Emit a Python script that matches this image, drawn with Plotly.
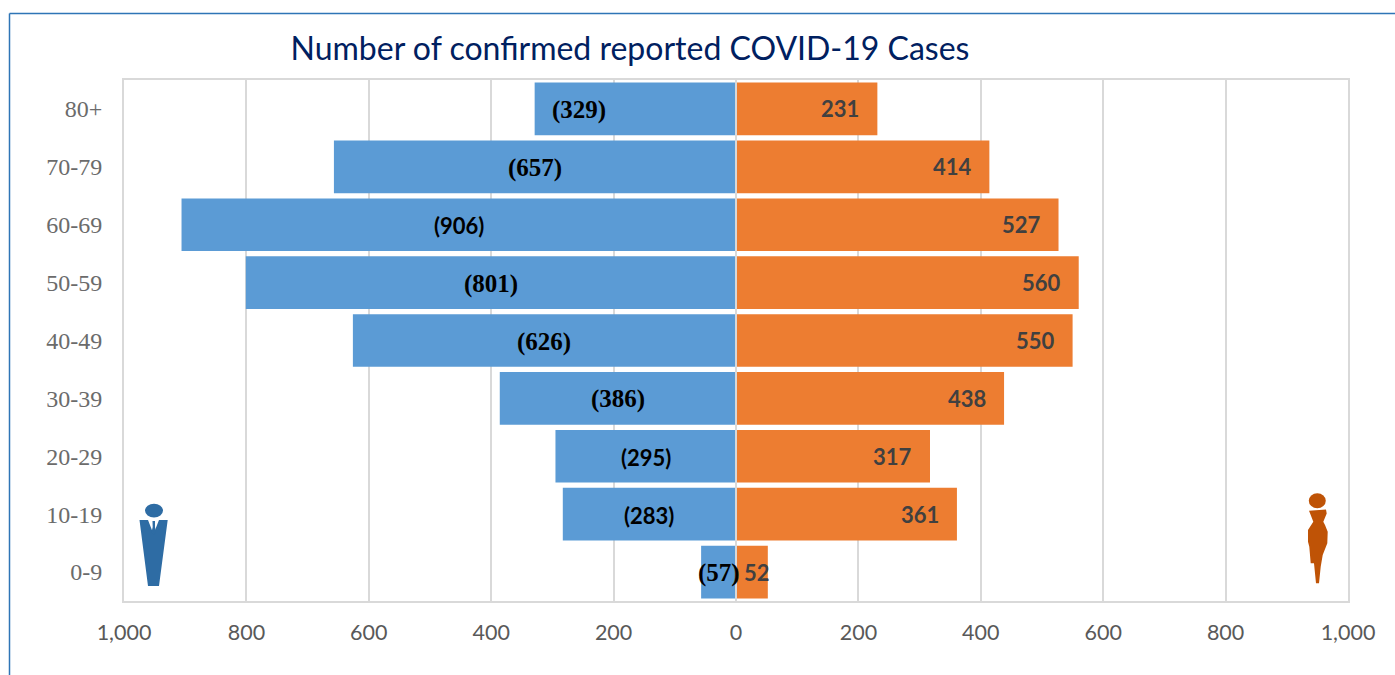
import plotly.graph_objects as go

categories = ["0-9", "10-19", "20-29", "30-39", "40-49", "50-59", "60-69", "70-79", "80+"]
male = [57, 283, 295, 386, 626, 801, 906, 657, 329]
female = [52, 361, 317, 438, 550, 560, 527, 414, 231]
x_ticks = [-1000, -800, -600, -400, -200, 0, 200, 400, 600, 800, 1000]
x_tick_labels = ["1,000", "800", "600", "400", "200", "0", "200", "400", "600", "800", "1,000"]
title_text = "Number of confirmed reported COVID-19 Cases"

W, H = 1395, 675
L, R, T, B = 124, 1348, 79.5, 601
BLUE, ORANGE = "#5B9BD5", "#ED7D31"
GRID = "#D9D9D9"
SERIF, SANS = "Liberation Serif", "Lato"
male_fonts = [SERIF, SANS, SANS, SERIF, SERIF, SERIF, SANS, SERIF, SERIF]
male_sizes = [25, 22, 22, 25, 25, 25, 22, 25, 25]


def px(x):
    return (x - L) / (R - L)


def py(y):
    return (B - y) / (B - T)


def poly(points, color):
    path = "M " + " L ".join(f"{px(a):.5f},{py(b):.5f}" for a, b in points) + " Z"
    return dict(type="path", xref="paper", yref="paper", path=path,
                fillcolor=color, line=dict(width=0), layer="above")


def oval(cx, cy, rx, ry, color):
    return dict(type="circle", xref="paper", yref="paper", x0=px(cx - rx), x1=px(cx + rx),
                y0=py(cy + ry), y1=py(cy - ry), fillcolor=color, line=dict(width=0), layer="above")


MAN = "#2E6CA4"
WOMAN = "#BF5306"
man_body = [(139.5, 520), (148, 520), (153.5, 534), (159, 520), (167.7, 520), (159, 586), (148, 586)]
tie = [(152.5, 521), (155, 521), (155, 527), (156, 532), (153.7, 535), (151.6, 532), (152.7, 527)]
woman_body = [(1309, 510.7), (1326, 509.3), (1326.7, 513.3), (1323.3, 521.7), (1325, 525), (1327.7, 531.7),
              (1327.3, 543.3), (1322.7, 555), (1320.7, 566.7), (1319, 583.3), (1316, 583.3), (1314, 563.3),
              (1310.7, 563.3), (1309.3, 546.7), (1308, 541.7), (1308, 530), (1313.3, 521.7), (1310.7, 515)]

fig = go.Figure()
fig.add_trace(go.Bar(y=categories, x=[-v for v in male], orientation="h",
                     marker=dict(color=BLUE, line=dict(width=0)), hoverinfo="skip"))
fig.add_trace(go.Bar(y=categories, x=female, orientation="h",
                     marker=dict(color=ORANGE, line=dict(width=0)), hoverinfo="skip"))

male_pos = [-v / 2 for v in male]
male_pos[-1] = -257
female_pos = [v - 61 for v in female]
female_pos[0] = 34

annotations = []
for cat, v, xp, fam, size in zip(categories, male, male_pos, male_fonts, male_sizes):
    annotations.append(dict(x=xp, y=cat, xref="x", yref="y", text=f"<b>({v})</b>", showarrow=False,
                            yshift=-1, font=dict(family=fam, size=size, color="#000000")))
for cat, v, xp in zip(categories, female, female_pos):
    annotations.append(dict(x=xp, y=cat, xref="x", yref="y", text=f"<b>{v}</b>", showarrow=False,
                            yshift=0, font=dict(family=SANS, size=22, color="#404040")))

shapes = [
    dict(type="line", xref="x", yref="paper", x0=0, x1=0, y0=py(B), y1=py(T),
         line=dict(color=GRID, width=2), layer="above"),
    dict(type="line", xref="paper", yref="paper", x0=px(9.5), x1=px(W), y0=py(13), y1=py(13),
         line=dict(color="#2E75B6", width=1.5)),
    dict(type="line", xref="paper", yref="paper", x0=px(9.5), x1=px(9.5), y0=py(H), y1=py(13),
         line=dict(color="#2E75B6", width=1.5)),
    oval(154, 510.5, 9, 6.8, MAN), poly(man_body, MAN), poly(tie, MAN),
    oval(1317.3, 500.7, 8.5, 7.5, WOMAN), poly(woman_body, WOMAN),
]

fig.update_layout(
    width=W, height=H, autosize=False, showlegend=False, barmode="relative", bargap=0.09,
    paper_bgcolor="white", plot_bgcolor="white",
    margin=dict(l=L, r=W - R, t=T, b=H - B, pad=0),
    title=dict(text=title_text, x=630 / W, xanchor="center", y=1 - 49 / H, yanchor="middle",
               font=dict(family=SANS, size=32, color="#002060")),
    xaxis=dict(range=[-1000, 1000], tickvals=x_ticks, ticktext=x_tick_labels, showgrid=True,
               gridcolor=GRID, gridwidth=2, zeroline=False, showline=True, linecolor=GRID, linewidth=2,
               mirror=True, ticks="outside", ticklen=11, tickcolor="rgba(0,0,0,0)",
               tickfont=dict(family=SANS, size=21.5, color="#595959")),
    yaxis=dict(type="category", categoryorder="array", categoryarray=categories, showgrid=False,
               showline=True, linecolor=GRID, linewidth=2, mirror=True, ticks="outside", ticklen=15,
               tickcolor="rgba(0,0,0,0)", tickfont=dict(family=SERIF, size=24, color="#6B6B6B")),
    annotations=annotations,
    shapes=shapes,
)
fig.write_html("out.html", config=dict(displayModeBar=False),
               post_script="document.body.style.margin='0';")
